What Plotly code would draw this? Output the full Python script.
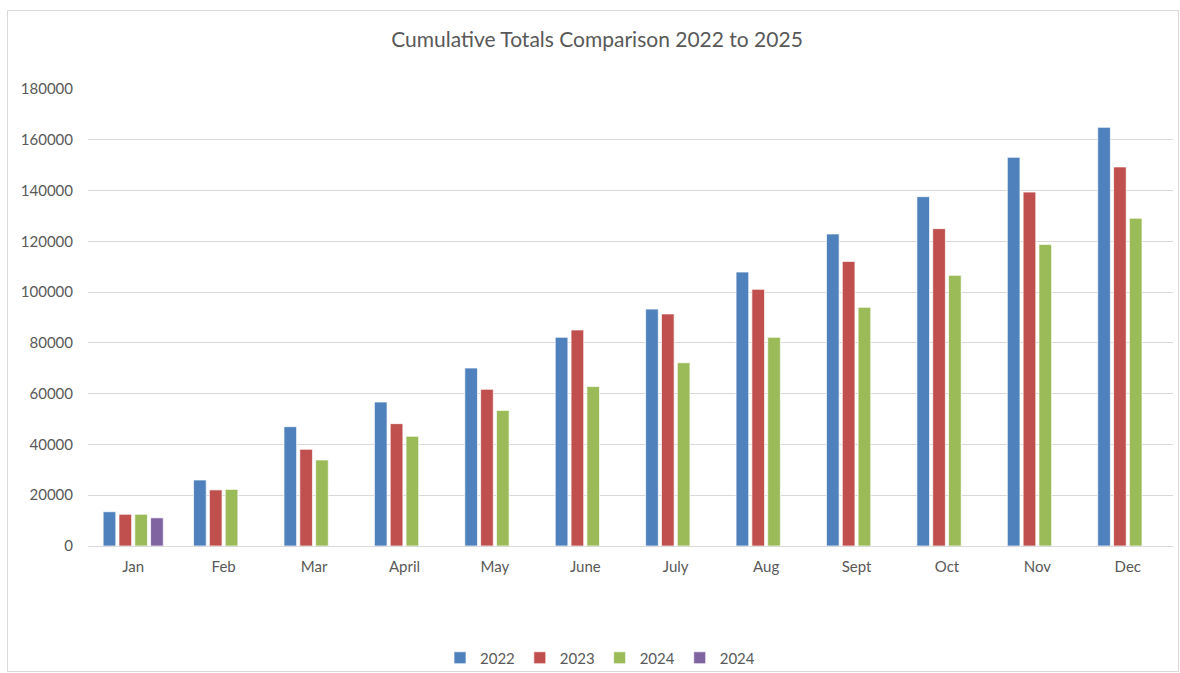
import plotly.graph_objects as go

months = ["Jan", "Feb", "Mar", "April", "May", "June", "July", "Aug", "Sept", "Oct", "Nov", "Dec"]
v2022 = [13500, 26000, 47000, 56700, 70100, 82200, 93300, 107900, 122900, 137600, 153100, 164900]
v2023 = [12500, 22100, 38100, 48200, 61700, 85100, 91400, 101100, 112100, 125000, 139400, 149300]
v2024 = [12500, 22300, 33900, 43200, 53400, 62800, 72200, 82200, 94000, 106600, 118800, 129100]
v2024b = [11100, None, None, None, None, None, None, None, None, None, None, None]

series = [("2022", v2022, "#4F81BD"), ("2023", v2023, "#C0504D"),
          ("2024", v2024, "#9BBB59"), ("2024", v2024b, "#8064A2")]

fig = go.Figure()
for name, vals, col in series:
    fig.add_trace(go.Bar(x=months, y=vals, name=name,
                         marker=dict(color=col, line=dict(color="rgba(255,255,255,0.7)", width=1))))

W, H = 1180, 673
L, R, T, B = 88, 7, 89, 127
pw = W - L - R
ph = H - T - B

def px2x(p):
    return (p - L) / pw

def py2y(p):
    return (H - B - p) / ph

fig.update_layout(
    width=W, height=H,
    margin=dict(l=L, r=R, t=T, b=B, autoexpand=False),
    paper_bgcolor="white", plot_bgcolor="white",
    barmode="group", bargap=0.30, bargroupgap=0.2,
    font=dict(family="Lato, Calibri, sans-serif", size=15, color="#595959"),
    title=dict(text="Cumulative Totals Comparison 2022 to 2025", x=597 / W, y=1 - 40 / H,
               xanchor="center", yanchor="middle", font=dict(size=21, color="#595959")),
    legend=dict(orientation="h", x=px2x(600), y=py2y(658), xanchor="center", yanchor="middle",
                font=dict(size=15, color="#595959"), traceorder="normal", itemwidth=30,
                bgcolor="rgba(0,0,0,0)"),
    showlegend=True,
    shapes=[dict(type="rect", xref="paper", yref="paper",
                 x0=px2x(7.5), x1=px2x(1178.5), y0=py2y(671.5), y1=py2y(10.5),
                 line=dict(color="#D9D9D9", width=1), fillcolor="rgba(0,0,0,0)", layer="below")],
)
fig.update_xaxes(showgrid=False, showline=True, linecolor="#D9D9D9", linewidth=1, ticks="",
                 tickfont=dict(size=15, color="#595959"), ticklabelstandoff=7)
fig.update_yaxes(range=[0, 180000], dtick=20000, showgrid=True, gridcolor="#D9D9D9", gridwidth=1,
                 zeroline=False, showline=False, ticks="", tickformat="d",
                 tickfont=dict(size=15, color="#595959"), ticklabelstandoff=14)

fig.write_html("out.html")
